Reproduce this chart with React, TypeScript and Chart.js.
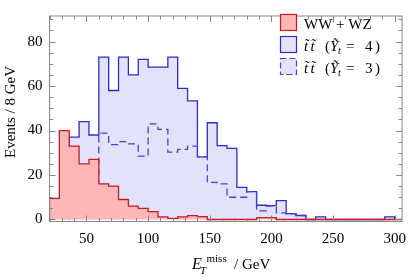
import { useEffect, useRef } from 'react';
import { Chart, registerables } from 'chart.js';

Chart.register(...registerables);

// Bin edges (GeV), bins of 8 GeV
const binEdges = [20, 28, 36, 44, 52, 60, 68, 76, 84, 92, 100, 108, 116, 124, 132, 140, 148, 156, 164, 172, 180, 188, 196, 204, 212, 220, 228, 236, 244, 252, 260, 268, 276, 284, 292, 300, 308];

// Events per bin
const wwWz = [9.5, 40, 33, 25, 27, 16, 15, 9, 6, 5, 3.5, 1.2, 0.5, 1.2, 1.7, 1.3, 0, 0, 0, 0, 0, 0.8, 0.8, 0, 0, 0, 0, 0, 0, 0, 0, 0, 0, 0, 0, 0];
const stopY4 = [0, 0, 37, 44, 38, 73, 58, 73, 65, 72, 68.5, 68.5, 73, 59, 53.3, 28.2, 43.5, 33.2, 32, 14.4, 12.5, 6.4, 6.2, 8.5, 2.6, 1.8, 0, 1.2, 0, 0, 0, 0, 0, 0, 1.2, 0];
const stopY3 = [0, 0, 0, 0, 0, 38.8, 33.7, 35, 34, 28.5, 43, 40.5, 30.3, 31.5, 33, 28.2, 16.7, 16, 10, 10, 12.5, 3.9, 6, 3, 2.5, 1.8, 0, 0, 0, 0, 0, 0, 0, 0, 0, 0];

const xTickLabels = [50, 100, 150, 200, 250, 300];
const yTickLabels = [0, 20, 40, 60, 80];

const seriesNames = ['WW + WZ', 't\u0303 t\u0303  (Y\u0303 t = 4)', 't\u0303 t\u0303  (Y\u0303 t = 3)'];

const SERIF = '"Liberation Serif", "DejaVu Serif", serif';
const RED_LINE = 'rgb(200,25,35)';
const RED_FILL = 'rgb(255,182,182)';
const BLUE_LINE = 'rgb(45,45,195)';
const BLUE_DASH = 'rgb(70,70,205)';
const BLUE_FILL = 'rgb(226,226,251)';
const FRAME = 'rgb(135,135,135)';

function histPoints(vals: number[], trim: boolean) {
  let first = 0;
  let last = vals.length - 1;
  if (trim) {
    while (first < last && vals[first] === 0) first++;
    while (last > first && vals[last] === 0) last--;
  }
  const pts: { x: number; y: number }[] = [{ x: binEdges[first], y: 0 }];
  for (let i = first; i <= last; i++) pts.push({ x: binEdges[i], y: vals[i] });
  pts.push({ x: binEdges[last + 1], y: 0 });
  return pts;
}

function drawStopLabel(ctx: CanvasRenderingContext2D, x: number, base: number, value: string) {
  ctx.fillStyle = '#000';
  ctx.textAlign = 'left';
  ctx.textBaseline = 'alphabetic';
  ctx.font = `italic 15px ${SERIF}`;
  ctx.fillText('t\u0303', x, base);
  ctx.fillText('t\u0303', x + 6.5, base);
  ctx.font = `15px ${SERIF}`;
  ctx.fillText('(', x + 21, base);
  ctx.font = `italic 15px ${SERIF}`;
  ctx.fillText('Y\u0303', x + 26, base);
  ctx.font = `italic 10px ${SERIF}`;
  ctx.fillText('t', x + 34, base + 3);
  ctx.font = `15px ${SERIF}`;
  ctx.fillText('=', x + 42, base);
  ctx.fillText(value, x + 61, base);
  ctx.fillText(')', x + 71, base);
}

const framePlugin = {
  id: 'mmaFrame',
  afterDraw(chart: any) {
    const { ctx, chartArea: a, scales } = chart;
    const xs = scales.x;
    const ys = scales.y;
    ctx.save();
    ctx.strokeStyle = FRAME;
    ctx.lineWidth = 1;
    ctx.setLineDash([]);
    ctx.strokeRect(a.left, a.top, a.right - a.left, a.bottom - a.top);
    ctx.beginPath();
    for (let v = 20; v <= 300; v += 10) {
      const px = Math.round(xs.getPixelForValue(v)) + 0.5;
      const len = v % 50 === 0 ? 6 : 3.5;
      ctx.moveTo(px, a.bottom);
      ctx.lineTo(px, a.bottom - len);
      ctx.moveTo(px, a.top);
      ctx.lineTo(px, a.top + len);
    }
    for (let v = 0; v <= 90; v += 5) {
      const py = Math.round(ys.getPixelForValue(v)) + 0.5;
      const len = v % 20 === 0 ? 6 : 3.5;
      ctx.moveTo(a.left, py);
      ctx.lineTo(a.left + len, py);
      ctx.moveTo(a.right, py);
      ctx.lineTo(a.right - len, py);
    }
    ctx.stroke();

    // Legend
    const bx = 280.5;
    const boxes = [14.5, 36.5, 58.5];
    ctx.lineWidth = 1.2;
    // box 1
    ctx.fillStyle = RED_FILL;
    ctx.fillRect(bx, boxes[0], 16, 16);
    ctx.strokeStyle = RED_LINE;
    ctx.strokeRect(bx, boxes[0], 16, 16);
    // box 2
    ctx.fillStyle = BLUE_FILL;
    ctx.fillRect(bx, boxes[1], 16, 16);
    ctx.strokeStyle = BLUE_LINE;
    ctx.strokeRect(bx, boxes[1], 16, 16);
    // box 3 dashed
    ctx.fillStyle = BLUE_FILL;
    ctx.fillRect(bx, boxes[2], 16, 16);
    ctx.strokeStyle = BLUE_DASH;
    ctx.setLineDash([6, 3]);
    ctx.strokeRect(bx, boxes[2], 16, 16);
    ctx.setLineDash([]);

    ctx.fillStyle = '#000';
    ctx.textAlign = 'left';
    ctx.textBaseline = 'alphabetic';
    ctx.font = `15px ${SERIF}`;
    ctx.fillText(seriesNames[0], 304, 28.5);
    drawStopLabel(ctx, 304, 50.5, '4');
    drawStopLabel(ctx, 304, 72.5, '3');

    // Y title
    ctx.save();
    ctx.translate(15, 112);
    ctx.rotate(-Math.PI / 2);
    ctx.textAlign = 'center';
    ctx.font = `15px ${SERIF}`;
    ctx.fillText('Events / 8 GeV', 0, 0);
    ctx.restore();

    // X title
    ctx.textAlign = 'left';
    ctx.font = `italic 16px ${SERIF}`;
    ctx.fillText('E', 192, 269);
    ctx.font = `italic 11px ${SERIF}`;
    ctx.fillText('T', 200, 273.5);
    ctx.font = `11px ${SERIF}`;
    ctx.fillText('miss', 206.5, 262);
    ctx.font = `15px ${SERIF}`;
    ctx.fillText('/ GeV', 234, 269);
    ctx.restore();
  },
};

export default function App() {
  const ref = useRef<HTMLCanvasElement | null>(null);
  useEffect(() => {
    document.body.style.margin = '0';
    const canvas = ref.current;
    if (!canvas) return;
    const tickFont = { family: SERIF, size: 15 };
    const chart = new Chart(canvas, {
      type: 'line',
      data: {
        datasets: [
          {
            label: seriesNames[0],
            data: histPoints(wwWz, false),
            stepped: true,
            borderColor: RED_LINE,
            backgroundColor: RED_FILL,
            fill: 'origin',
            borderWidth: 1.3,
            pointRadius: 0,
          },
          {
            label: seriesNames[2],
            data: histPoints(stopY3, true),
            stepped: true,
            borderColor: BLUE_DASH,
            borderDash: [7, 4],
            fill: false,
            borderWidth: 1.3,
            pointRadius: 0,
          },
          {
            label: seriesNames[1],
            data: histPoints(stopY4, true),
            stepped: true,
            borderColor: BLUE_LINE,
            backgroundColor: BLUE_FILL,
            fill: 'origin',
            borderWidth: 1.3,
            pointRadius: 0,
          },
        ],
      } as any,
      options: {
        animation: false,
        responsive: false,
        devicePixelRatio: 1,
        layout: { padding: { top: 0.5, right: 4.5, left: 0, bottom: 0 } },
        plugins: {
          legend: { display: false },
          tooltip: { enabled: false },
        },
        scales: {
          x: {
            type: 'linear',
            min: 20,
            max: 306,
            grid: { display: false, drawTicks: false },
            border: { display: false },
            ticks: { font: tickFont, color: '#000', padding: 9, maxRotation: 0, autoSkip: false },
            afterBuildTicks: (s: any) => {
              s.ticks = xTickLabels.map((v) => ({ value: v }));
            },
            afterFit: (s: any) => {
              s.height = 55.5;
            },
          },
          y: {
            type: 'linear',
            min: -0.9,
            max: 91.5,
            grid: { display: false, drawTicks: false },
            border: { display: false },
            ticks: { font: tickFont, color: '#000', padding: 7, autoSkip: false },
            afterBuildTicks: (s: any) => {
              s.ticks = yTickLabels.map((v) => ({ value: v }));
            },
            afterFit: (s: any) => {
              s.width = 49.5;
            },
          },
        },
      } as any,
      plugins: [framePlugin],
    });
    return () => chart.destroy();
  }, []);
  return (
    <canvas ref={ref} width={415} height={277} style={{ display: 'block', width: 415, height: 277 }} />
  );
}
